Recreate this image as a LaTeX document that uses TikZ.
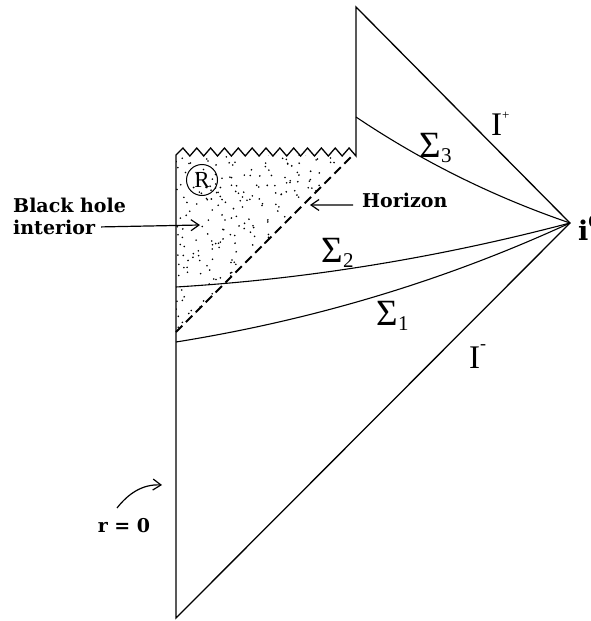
\documentclass[tikz,border=0pt]{standalone}
\usepackage{fontspec}
\newfontfamily\sigfont{Liberation Serif}
\newfontfamily\labfont{DejaVu Serif}
\usetikzlibrary{arrows.meta,calc}
\newcommand\SigLab[1]{{\sigfont\fontsize{37}{37}\selectfont Σ}\kern0.5pt\raisebox{-5pt}{\sigfont\fontsize{21}{21}\selectfont #1}}
\begin{document}
\begin{tikzpicture}[x=1pt,y=-1pt,
  edge/.style={line width=1.3pt, line join=miter},
  slice/.style={line width=1.1pt},
  horiz/.style={line width=2pt, dash pattern=on 9pt off 5pt},
  arr/.style={line width=1.2pt, -{Straight Barb[length=8pt,width=11pt,line width=1.2pt]}},
  lab/.style={font=\labfont\fontsize{19}{20}\bfseries\selectfont, inner sep=0pt},
  scri/.style={font=\sigfont\fontsize{33}{34}\selectfont, inner sep=0pt},
]
\useasboundingbox (0,0) rectangle (591,621);
\coordinate (top) at (356,7);
\coordinate (jog) at (356,155);
\coordinate (sing) at (176,155);
\coordinate (hb) at (176,332);
\coordinate (ht) at (354,154);
\coordinate (i0) at (570,223);
\coordinate (bot) at (176,618);
\coordinate (s3a) at (356,117);
\coordinate (s2a) at (176,287);
\coordinate (s1a) at (176,342);

% stippled black hole interior
\begin{scope}
\clip (sing) -- (jog) -- (hb) -- cycle;
\pgfmathsetseed{11}
\foreach \k in {1,...,400}{
  \pgfmathsetmacro\xx{176+180*rnd}
  \pgfmathsetmacro\yy{150+182*rnd}
  \fill (\xx,\yy) circle[radius=0.9pt];
}
\end{scope}

% outline
\draw[edge] (bot) -- (sing)
  \foreach \k in {1,...,13}{ -- ({176+(\k-0.5)*13.846},148) -- ({176+\k*13.846},156) }
  -- (top) -- (i0) -- cycle;

% horizon
\draw[horiz] (hb) -- (ht);

% slices
\draw[slice] (s3a) .. controls (423,162) and (494,197) .. (i0);
\draw[slice] (s2a) .. controls (309,279) and (441,257) .. (i0);
\draw[slice] (s1a) .. controls (313,320) and (444,281) .. (i0);

% circled R
\node[circle, draw, line width=1pt, inner sep=0pt, minimum size=31pt,
      font=\sigfont\fontsize{23}{23}\selectfont] (rr) at (202,180) {R};

% labels
\node[lab, anchor=base west] (bh1) at (13,212) {Black hole};
\node[lab, anchor=base west] (bh2) at (13,234) {interior};
\coordinate (bhtip) at (200,225);
\draw[arr] ([xshift=6pt]bh2.east) -- (bhtip);

\node[lab, anchor=base west] (hor) at (362,207) {Horizon};
\coordinate (htip) at (310,205);
\draw[arr] ([xshift=-9pt,yshift=-5pt]hor.west) -- (htip);

\node[lab, anchor=base] (r0) at (124,532) {r = 0};
\coordinate (r0tail) at (117,508);
\coordinate (r0tip) at (162,485);
\draw[arr] (r0tail) .. controls (128,494) and (142,484) .. (r0tip);

\node[scri, anchor=base west] (scrp) at (491,135) {I\raisebox{16pt}{\fontsize{13}{13}\selectfont +}};
\node[scri, anchor=base west] (scrm) at (469,368) {I\raisebox{19pt}{\fontsize{18}{18}\selectfont -}};
\node[anchor=base west, inner sep=0pt, font=\labfont\fontsize{27}{27}\bfseries\selectfont] (izero) at (578,240) {i\raisebox{13pt}{\fontsize{16}{16}\selectfont 0}};

\node[inner sep=0pt, anchor=base west] (sig3) at (419,157) {\SigLab{3}};
\node[inner sep=0pt, anchor=base west] (sig2) at (321,262) {\SigLab{2}};
\node[inner sep=0pt, anchor=base west] (sig1) at (376,325) {\SigLab{1}};
\end{tikzpicture}
\end{document}
